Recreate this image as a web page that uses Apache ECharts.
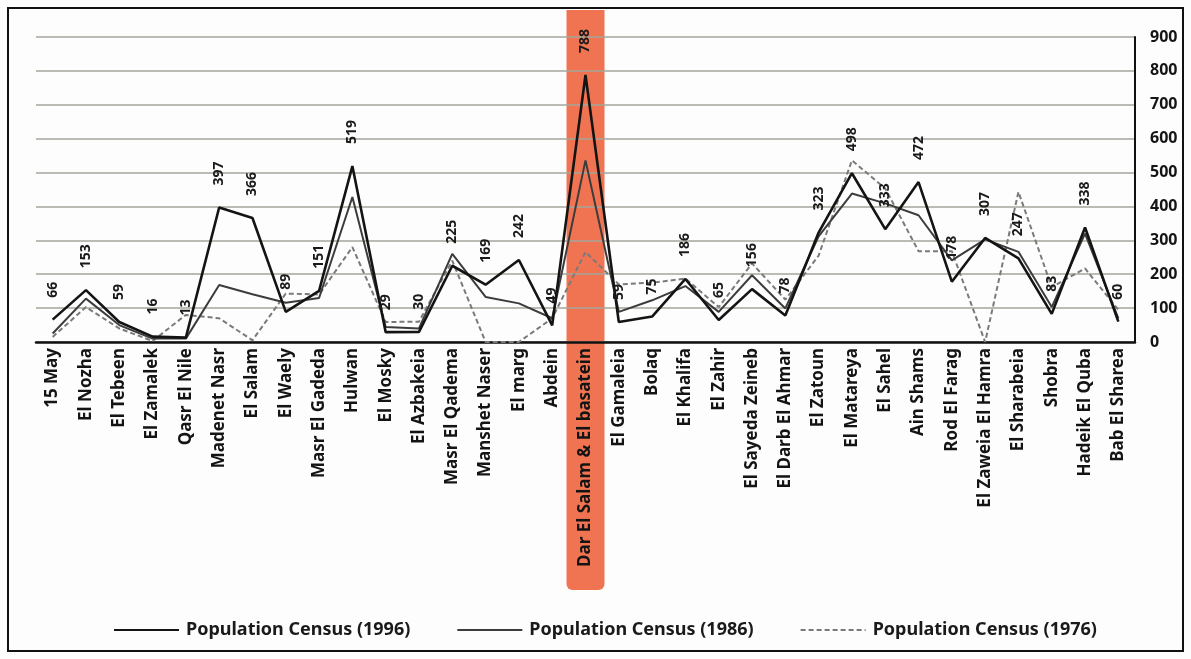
<!DOCTYPE html>
<html>
<head>
<meta charset="utf-8">
<script src="https://cdn.jsdelivr.net/npm/echarts@6/dist/echarts.min.js"></script>
<style>
  html, body { margin: 0; padding: 0; background: #fdfdfd; }
  #main { width: 1191px; height: 659px; }
</style>
</head>
<body>
<div id="main"></div>
<script>
// districts, left to right
const categories = [
  '15 May', 'El Nozha', 'El Tebeen', 'El Zamalek', 'Qasr El Nile', 'Madenet Nasr',
  'El Salam', 'El Waely', 'Masr El Gadeda', 'Hulwan', 'El Mosky', 'El Azbakeia',
  'Masr El Qadema', 'Manshet Naser', 'El marg', 'Abdein', 'Dar El Salam & El basatein',
  'El Gamaleia', 'Bolaq', 'El Khalifa', 'El Zahir', 'El Sayeda Zeineb', 'El Darb El Ahmar',
  'El Zatoun', 'El Matareya', 'El Sahel', 'Ain Shams', 'Rod El Farag', 'El Zaweia El Hamra',
  'El Sharabeia', 'Shobra', 'Hadeik El Quba', 'Bab El Sharea'
];

// population (thousands)
const census1996 = [66, 153, 59, 16, 13, 397, 366, 89, 151, 519, 29, 30, 225, 169, 242, 49, 788,
  59, 75, 186, 65, 156, 78, 323, 498, 333, 472, 178, 307, 247, 83, 338, 60];
const census1986 = [25, 128, 50, 10, 10, 168, 141, 116, 130, 428, 44, 40, 260, 133, 114, 70, 536,
  89, 123, 165, 89, 197, 99, 312, 438, 409, 374, 241, 303, 266, 103, 320, 70];
const census1976 = [15, 103, 40, 3, 80, 70, 5, 143, 140, 280, 59, 60, 240, 0, 0, 70, 266,
  170, 175, 187, 103, 232, 125, 255, 536, 453, 268, 268, 0, 443, 162, 217, 95];

const highlighted = 'Dar El Salam & El basatein';
const yMin = 0, yMax = 900, yStep = 100;

const chart = echarts.init(document.getElementById('main'), null, { renderer: 'canvas' });

const font = '"Noto Sans", "Open Sans", sans-serif';

chart.setOption({
  animation: false,
  backgroundColor: '#fdfdfd',
  textStyle: { fontFamily: font },
  grid: { left: 36, right: 56, top: 37, bottom: 317 },
  legend: {
    top: 616,
    left: 108,
    itemWidth: 65,
    itemHeight: 20,
    itemGap: 46,
    itemStyle: { opacity: 0 },
    textStyle: { fontFamily: font, fontWeight: 'bold', fontSize: 18, color: '#1a1a1a', padding: [0, 0, 0, 2] },
    data: ['Population Census (1996)', 'Population Census (1986)', 'Population Census (1976)']
  },
  xAxis: {
    type: 'category',
    data: categories,
    axisLine: { lineStyle: { color: '#111', width: 2.5 } },
    axisTick: { show: false },
    axisLabel: {
      interval: 0,
      rotate: 90,
      margin: 6,
      fontFamily: font,
      fontWeight: 'bold',
      fontSize: 17,
      color: '#141414'
    }
  },
  yAxis: {
    type: 'value',
    position: 'right',
    min: yMin,
    max: yMax,
    interval: yStep,
    axisLine: { show: true, lineStyle: { color: '#111', width: 2 } },
    axisTick: { show: false },
    axisLabel: { margin: 15, fontFamily: font, fontWeight: 'bold', fontSize: 16, color: '#141414' },
    splitLine: { lineStyle: { color: '#a3a59c', width: 1.6 } }
  },
  series: [
    {
      name: 'Population Census (1996)',
      type: 'line',
      data: census1996,
      symbol: 'circle',
      symbolSize: 0,
      z: 4,
      lineStyle: { color: '#141414', width: 2.6 },
      itemStyle: { color: '#141414' },
      label: {
        show: true,
        position: 'top',
        distance: 22,
        rotate: 90,
        align: 'left',
        verticalAlign: 'middle',
        fontFamily: font,
        fontWeight: 'bold',
        fontSize: 14,
        color: '#1a1a1a'
      }
    },
    {
      name: 'Population Census (1986)',
      type: 'line',
      data: census1986,
      symbol: 'none',
      z: 3,
      lineStyle: { color: '#3c3c3c', width: 2 },
      itemStyle: { color: '#3c3c3c' }
    },
    {
      name: 'Population Census (1976)',
      type: 'line',
      data: census1976,
      symbol: 'none',
      z: 2,
      lineStyle: { color: '#7a7a7a', width: 2, type: [5, 3] },
      itemStyle: { color: '#7a7a7a' }
    }
  ]
});

// highlight band behind the Dar El Salam column, placed from the axis scale
const bandX = chart.convertToPixel({ xAxisIndex: 0 }, highlighted);
chart.setOption({
  graphic: [
    {
      type: 'rect',
      z: -10,
      silent: true,
      shape: { x: bandX - 19, y: 10, width: 38, height: 580, r: [0, 0, 6, 6] },
      style: { fill: '#f06843', opacity: 0.92 }
    },
    {
      type: 'rect',
      z: 100,
      silent: true,
      shape: { x: 8, y: 8, width: 1175, height: 643 },
      style: { fill: 'none', stroke: '#111', lineWidth: 2 }
    }
  ]
});
</script>
</body>
</html>
